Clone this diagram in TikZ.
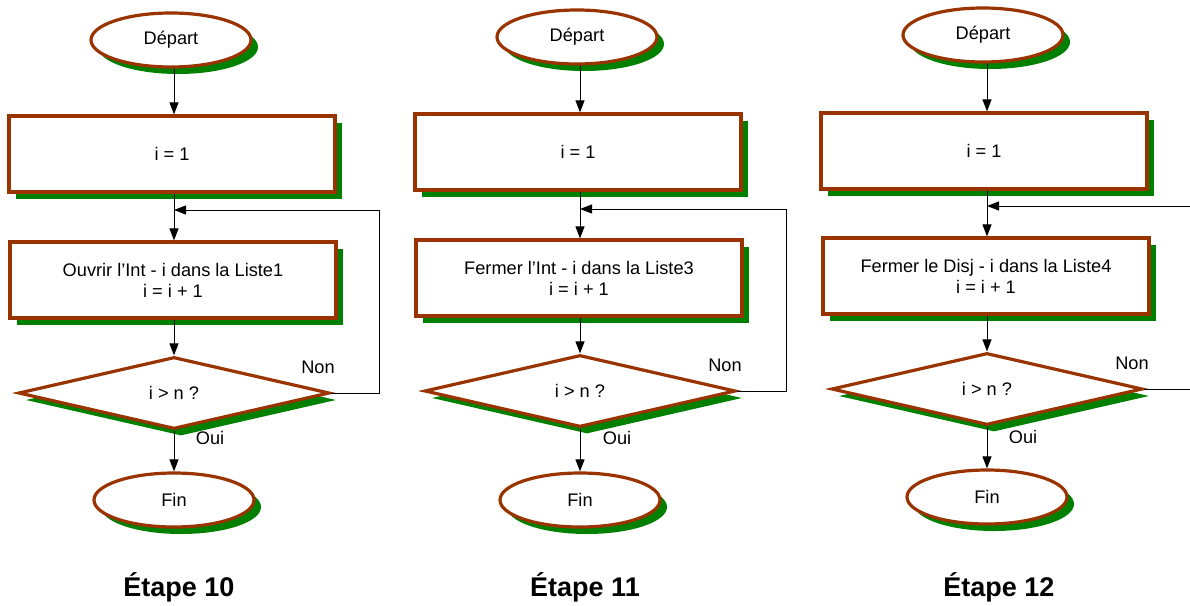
\documentclass[tikz,border=0pt]{standalone}
\usepackage{fontspec}
\setmainfont{Liberation Sans}
\usetikzlibrary{shapes.geometric,shadows,arrows.meta}
\definecolor{outl}{RGB}{153,51,0}
\definecolor{shgreen}{RGB}{0,128,0}
\tikzset{
  gshadow/.style={general shadow={shadow xshift=7pt, shadow yshift=-7pt, fill=shgreen}},
  term/.style={ellipse, draw=outl, line width=3.2pt, fill=white, minimum width=160pt, minimum height=54pt, inner sep=0pt, gshadow, font=\fontsize{18.2}{21}\selectfont},
  procbox/.style={rectangle, draw=outl, line width=3.2pt, fill=white, minimum width=326pt, minimum height=76pt, inner sep=0pt, align=center, gshadow, font=\fontsize{18.2}{21}\selectfont},
  decision/.style={diamond, draw=outl, line width=3.2pt, fill=white, minimum width=311pt, minimum height=72pt, shape aspect=4.3, inner sep=0pt, gshadow, font=\fontsize{18.2}{21}\selectfont},
  conn/.style={line width=1pt, -{Triangle[length=12pt,width=9pt]}},
  plain/.style={line width=1pt},
  lbl/.style={inner sep=0pt, font=\fontsize{18.2}{21}\selectfont},
  title/.style={inner sep=0pt, font=\fontsize{27}{32}\selectfont\bfseries}
}
\begin{document}
\begin{tikzpicture}[x=1pt,y=-1pt]
\useasboundingbox (0,0) rectangle (1190,605);
\clip (0,0) rectangle (1190,605);
% Column 1
\node[term] (d1) at (171,40) {Départ};
\node[procbox] (a1) at (172,154) {i = 1};
\node[procbox] (b1) at (173,280) {Ouvrir l’Int - i dans la Liste1\\i = i + 1};
\node[decision] (q1) at (174,393) {i > n ?};
\node[term] (f1) at (174,500) {Fin};
\coordinate (j1) at (174,210);
\coordinate (r1) at (379,393);
\draw[conn] (d1.south -| j1) -- (a1.north -| j1);
\draw[plain] (a1.south -| j1) -- (j1);
\draw[conn] (j1) -- (b1.north -| j1);
\draw[conn] (b1.south -| j1) -- (q1.north);
\draw[conn] (q1.south) -- (f1.north);
\draw[conn] (q1.east) -- (r1) |- (j1);
\node[lbl] (n1) at (318,367) {Non};
\node[lbl] (o1) at (210,438) {Oui};
\node[title] (t1) at (179,587) {Étape 10};
% Column 2
\node[term] (d2) at (577,37) {Départ};
\node[procbox] (a2) at (578,152) {i = 1};
\node[procbox] (b2) at (579,278) {Fermer l’Int - i dans la Liste3\\i = i + 1};
\node[decision] (q2) at (580,391) {i > n ?};
\node[term] (f2) at (580,500) {Fin};
\coordinate (j2) at (580,209);
\coordinate (r2) at (786,391);
\draw[conn] (d2.south -| j2) -- (a2.north -| j2);
\draw[plain] (a2.south -| j2) -- (j2);
\draw[conn] (j2) -- (b2.north -| j2);
\draw[conn] (b2.south -| j2) -- (q2.north);
\draw[conn] (q2.south) -- (f2.north);
\draw[conn] (q2.east) -- (r2) |- (j2);
\node[lbl] (n2) at (725,365) {Non};
\node[lbl] (o2) at (617,438) {Oui};
\node[title] (t2) at (585,587) {Étape 11};
% Column 3
\node[term] (d3) at (983,35) {Départ};
\node[procbox] (a3) at (984,151) {i = 1};
\node[procbox] (b3) at (986,276) {Fermer le Disj - i dans la Liste4\\i = i + 1};
\node[decision] (q3) at (987,389) {i > n ?};
\node[term] (f3) at (987,497) {Fin};
\coordinate (j3) at (987,206);
\coordinate (r3) at (1200,389);
\draw[conn] (d3.south -| j3) -- (a3.north -| j3);
\draw[plain] (a3.south -| j3) -- (j3);
\draw[conn] (j3) -- (b3.north -| j3);
\draw[conn] (b3.south -| j3) -- (q3.north);
\draw[conn] (q3.south) -- (f3.north);
\draw[conn] (q3.east) -- (r3) |- (j3);
\node[lbl] (n3) at (1132,363) {Non};
\node[lbl] (o3) at (1023,437) {Oui};
\node[title] (t3) at (999,587) {Étape 12};
\end{tikzpicture}
\end{document}
